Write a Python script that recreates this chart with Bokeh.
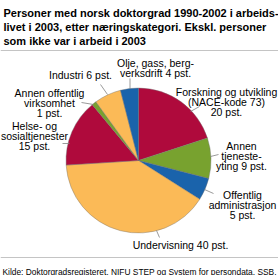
import numpy as np
from bokeh.plotting import figure, ColumnDataSource
from bokeh.models import Range1d
from bokeh.core.properties import value
from bokeh.embed import file_html
from bokeh.resources import INLINE

# ---- data ----
categories = ["Forskning og utvikling", "Annen tjenesteyting", "Offentlig administrasjon",
              "Undervisning", "Helse- og sosialtjenester", "Annen offentlig virksomhet",
              "Industri", "Olje, gass, bergverksdrift"]
values = [20, 9, 5, 40, 15, 1, 6, 4]
colors = ["#AF0A3C", "#78A22F", "#1A63AB", "#FBBA57", "#AF0A3C", "#78A22F", "#FBBA57", "#1A63AB"]
label_texts = [
    "Forskning og utvikling\n(NACE-kode 73)\n20 pst.",
    "Annen\ntjeneste-\nyting 9 pst.",
    "Offentlig\nadministrasjon\n5 pst.",
    "Undervisning 40 pst.",
    "Helse- og\nsosialtjenester\n15 pst.",
    "Annen offentlig\nvirksomhet\n1 pst.",
    "Industri 6 pst.",
    "Olje, gass, berg-\nverksdrift 4 pst.",
]
title_lines = ["Personer med norsk doktorgrad 1990-2002 i arbeids-",
               "livet i 2003, etter næringskategori. Ekskl. personer",
               "som ikke var i arbeid i 2003"]
source_text = "Kilde: Doktorgradsregisteret, NIFU STEP og System for persondata, SSB."

# ---- layout (pixel positions, y measured from top) ----
W, H = 278, 275
def Y(py):
    return H - py

cx, cy, r = 138, 160, 72.5
# label centres (x, y of first line centre)
label_pos = [(226, 91), (241, 145), (242, 194.5), (180, 244), (34, 125), (49, 92), (80, 74), (155, 62.5)]
label_align = ["center"] * 8
leaders = [((199, 106), (190, 111)), ((218, 154), (210, 156)), ((213, 193), (204, 189)),
           ((159, 237), (156, 230)), ((62, 143), (69, 143)), ((81, 102), (93, 104)),
           ((100, 84), (107, 94)), ((129.5, 78), (129.5, 88))]

p = figure(width=W, height=H, x_range=Range1d(0, W), y_range=Range1d(0, H),
           x_axis_location=None, y_axis_location=None, toolbar_location=None,
           output_backend="svg", min_border=0, outline_line_color=None,
           background_fill_color="white", border_fill_color="white")
p.xgrid.visible = False
p.ygrid.visible = False

frac = np.array(values, dtype=float) / sum(values)
cum = np.concatenate([[0], np.cumsum(frac)])
start = np.pi / 2 - 2 * np.pi * cum[:-1]
end = np.pi / 2 - 2 * np.pi * cum[1:]
src = ColumnDataSource(dict(start=start, end=end, color=colors, cat=categories))
p.wedge(x=cx, y=Y(cy), radius=r, start_angle="start", end_angle="end", direction="clock",
        fill_color="color", line_color="#6f6f6f", line_width=0.4, source=src)

# leader lines
p.segment(x0=[a[0][0] for a in leaders], y0=[Y(a[0][1]) for a in leaders],
          x1=[a[1][0] for a in leaders], y1=[Y(a[1][1]) for a in leaders],
          line_color="#808080", line_width=0.8)

# labels, line by line with 10px spacing
lx, ly, lt = [], [], []
for (x0, y0), txt in zip(label_pos, label_texts):
    for i, line in enumerate(txt.split("\n")):
        lx.append(x0); ly.append(Y(y0 + 10 * i)); lt.append(line)
p.text(x=lx, y=ly, text=lt, text_align="center", text_baseline="middle",
       text_font=value("Liberation Sans"), text_font_size="10.5px", text_color="#000000")

# title
p.text(x=[3] * 3, y=[Y(12), Y(26), Y(40)], text=title_lines, text_align="left",
       text_baseline="alphabetic", text_font=value("Liberation Sans"),
       text_font_size="11px", text_font_style="bold", text_color="#000000")

# separators
p.segment(x0=[0, 0], y0=[Y(50), Y(257)], x1=[W, W], y1=[Y(50), Y(257)],
          line_color="#c4c4c4", line_width=1.2)

# source
p.text(x=[2], y=[Y(271)], text=[source_text], text_align="left", text_baseline="alphabetic",
       text_font=value("Liberation Sans"), text_font_size="8.4px", text_color="#000000")

open("out.html", "w").write(file_html(p, INLINE))
